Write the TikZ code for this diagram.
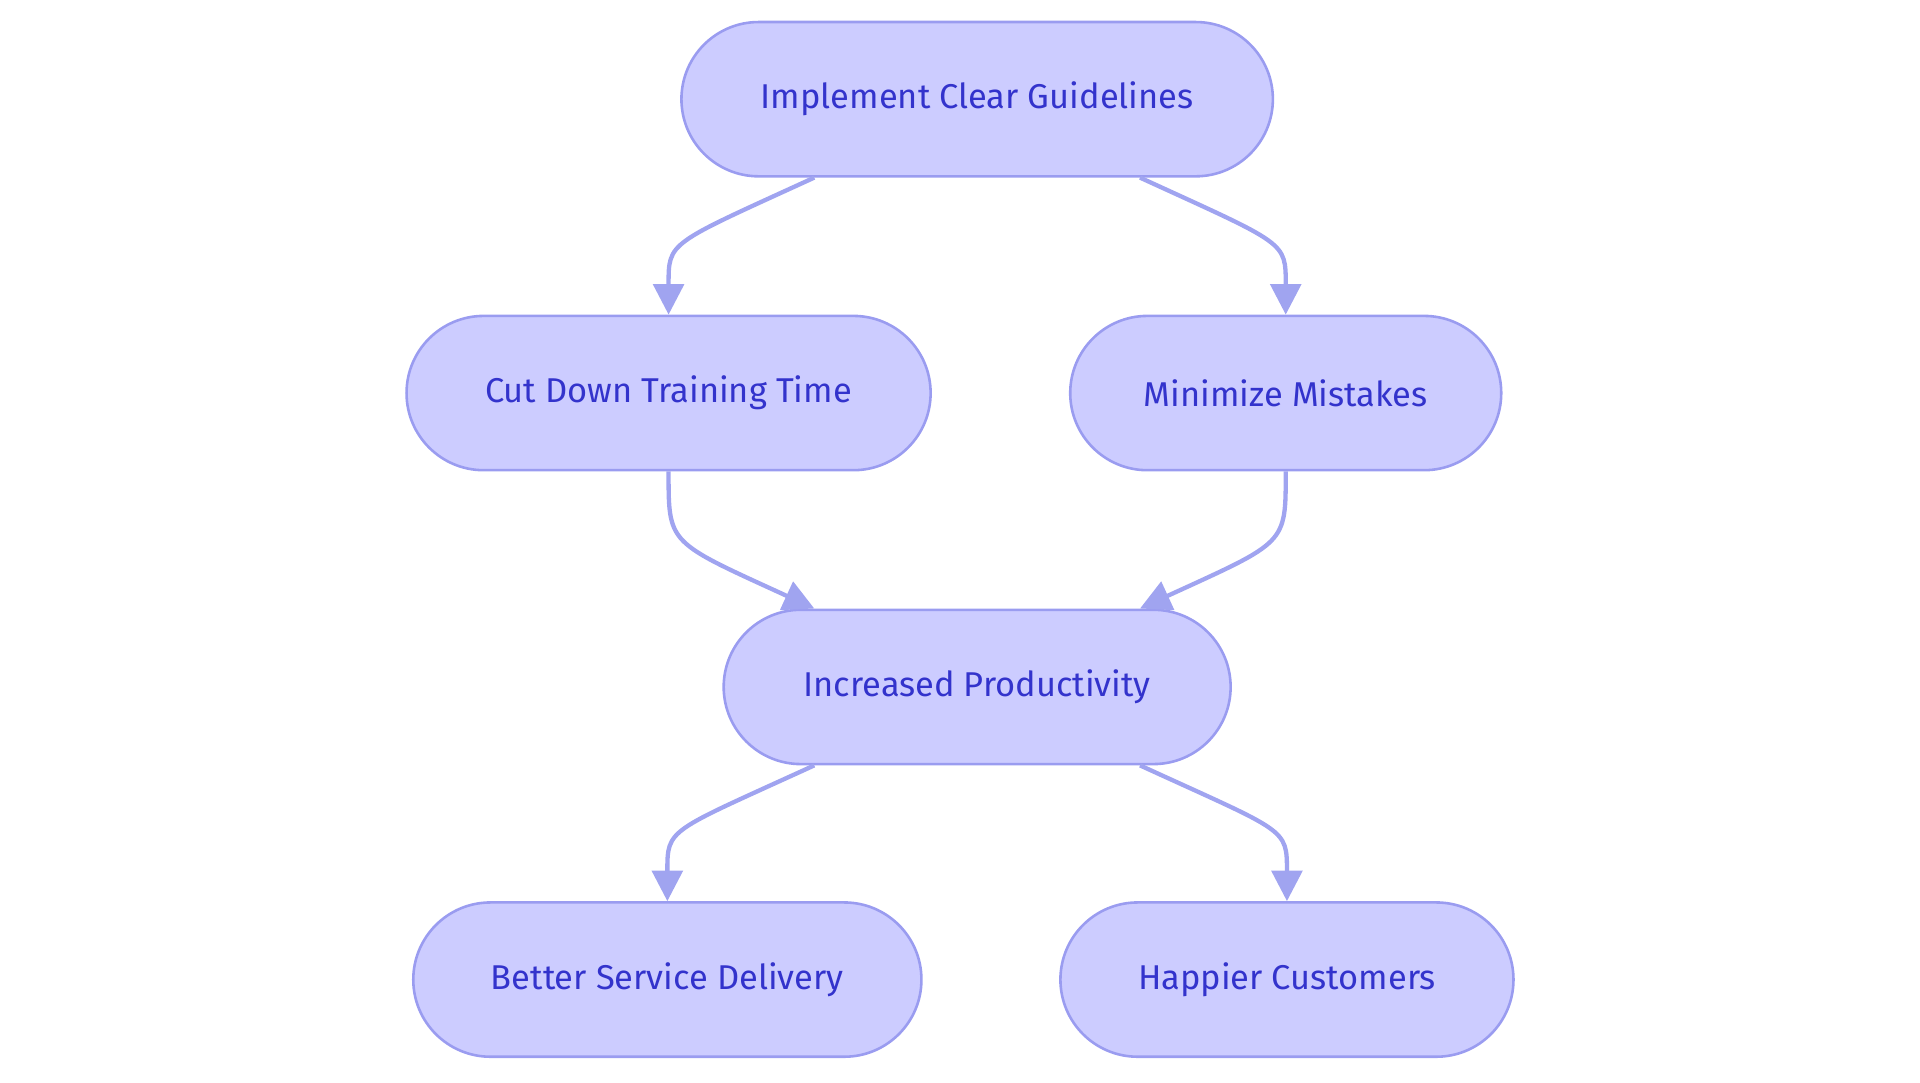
\documentclass[tikz,border=0pt]{standalone}
\usepackage{fontspec}
\setmainfont{Fira Sans}
\usetikzlibrary{arrows.meta,positioning,calc}
\definecolor{boxfill}{HTML}{CCCCFF}
\definecolor{boxline}{HTML}{9A9CF0}
\definecolor{boxtext}{HTML}{3333CC}
\definecolor{wire}{HTML}{A0A4F0}
\tikzset{
  stepbox/.style={shape=rectangle, draw=boxline, fill=boxfill, line width=1.2pt, rounded corners=1.26cm, minimum height=2.52cm, text=boxtext, font=\fontsize{16}{19}\selectfont},
  flow/.style={draw=wire, line width=2pt, -{Triangle[length=0.5cm,width=0.5cm]}}
}
\begin{document}
\begin{tikzpicture}
	\useasboundingbox (0,0) rectangle (31.36,-17.68);
	% Boxes:
	\node[stepbox, minimum width=9.66cm] (impl) at (15.96,-1.62){Implement Clear Guidelines};
	\node[stepbox, minimum width=8.56cm] (cut) at (10.92,-6.42){Cut Down Training Time};
	\node[stepbox, minimum width=7.04cm] (mini) at (21,-6.42){Minimize Mistakes};
	\node[stepbox, minimum width=8.28cm] (prod) at (15.96,-11.22){Increased Productivity};
	\node[stepbox, minimum width=8.3cm] (serv) at (10.9,-16){Better Service Delivery};
	\node[stepbox, minimum width=7.4cm] (happy) at (21.02,-16){Happier Customers};
	% Wires:
	\draw[flow] ([xshift=-2.66cm]impl.south) .. controls +(-2.4,-1.1) and +(0,1.2) .. (cut.north);
	\draw[flow] ([xshift=2.66cm]impl.south) .. controls +(2.4,-1.1) and +(0,1.2) .. (mini.north);
	\draw[flow] (cut.south) .. controls +(0,-1.2) and +(-2.4,1.1) .. ([xshift=-2.66cm]prod.north);
	\draw[flow] (mini.south) .. controls +(0,-1.2) and +(2.4,1.1) .. ([xshift=2.66cm]prod.north);
	\draw[flow] ([xshift=-2.66cm]prod.south) .. controls +(-2.4,-1.1) and +(0,1.2) .. (serv.north);
	\draw[flow] ([xshift=2.66cm]prod.south) .. controls +(2.4,-1.1) and +(0,1.2) .. (happy.north);
\end{tikzpicture}
\end{document}
